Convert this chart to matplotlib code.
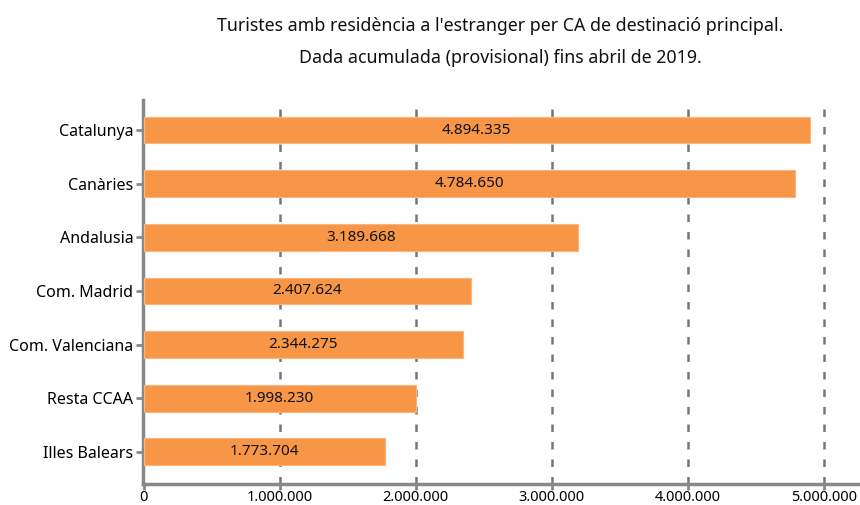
import matplotlib
matplotlib.use("Agg")
import matplotlib.pyplot as plt
from matplotlib.ticker import FuncFormatter

plt.rcParams['font.family'] = ['Noto Sans', 'DejaVu Sans']

categories = ["Catalunya", "Canàries", "Andalusia", "Com. Madrid",
              "Com. Valenciana", "Resta CCAA", "Illes Balears"]
values = [4894335, 4784650, 3189668, 2407624, 2344275, 1998230, 1773704]
xticks = [0, 1000000, 2000000, 3000000, 4000000, 5000000]
title = ("Turistes amb residència a l'estranger per CA de destinació principal.\n"
         "Dada acumulada (provisional) fins abril de 2019.")

def fmt(v):
    return f"{int(v):,}".replace(",", ".")

fig = plt.figure(figsize=(8.6, 5.05), dpi=100)
ax = fig.add_axes([143/860, 1-484/505, (860-143)/860, (484-100)/505])

pos = list(range(len(categories)))
ax.barh(pos, values, height=0.5, color='#F79646', edgecolor='#FAB57E', linewidth=0.8, zorder=3)
for p, v in zip(pos, values):
    ax.text(v/2, p, fmt(v), ha='center', va='center', fontsize=11, color='#111111', zorder=4)

ax.set_yticks(pos)
ax.set_yticklabels(categories, fontsize=11.5)
ax.set_ylim(6.6, -0.56)
ax.set_xlim(-0.005e6, 5.265e6)
ax.set_xticks(xticks)
ax.xaxis.set_major_formatter(FuncFormatter(lambda v, _: fmt(v)))
ax.tick_params(axis='x', labelsize=10.5, length=4, width=2, color='#888888', pad=0.5)
ax.tick_params(axis='y', length=5, width=2, color='#888888', pad=2)

for s in ['top', 'right']:
    ax.spines[s].set_visible(False)
for s in ['left', 'bottom']:
    ax.spines[s].set_color('#888888')
    ax.spines[s].set_linewidth(2.5)

for x in xticks[1:]:
    ax.axvline(x, color='#777777', linestyle=(0, (3, 4)), linewidth=1.8, zorder=1)

fig.text(500/860, 1-42/505, title, ha='center', va='center', fontsize=12.8,
         linespacing=1.95, color='#111111')

fig.savefig("out.png", dpi=100)
